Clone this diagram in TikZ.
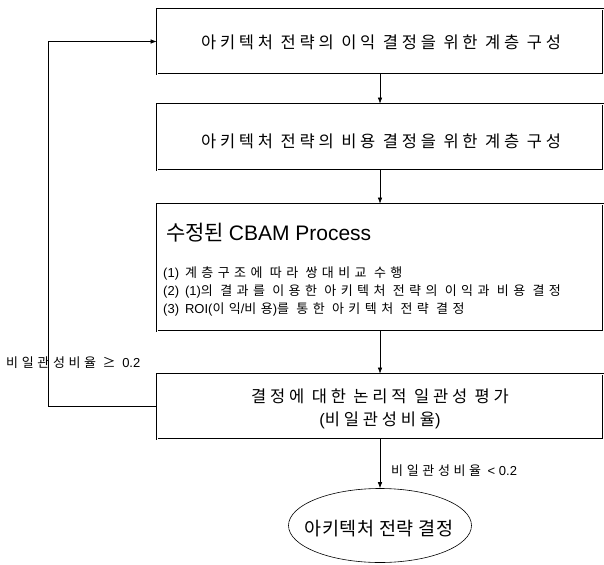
\documentclass[tikz,border=0pt]{standalone}
\usepackage{fontspec}
\setmainfont{Noto Sans CJK KR}
\newfontfamily\krbig[LetterSpace=23]{Noto Sans CJK KR}
\newfontfamily\krsmall[LetterSpace=34]{Noto Sans CJK KR}
\newfontfamily\krlab[LetterSpace=28]{Noto Sans CJK KR}
\newfontfamily\krell[LetterSpace=3]{Noto Sans CJK KR}
\newfontfamily\lat{Liberation Sans}
\newcommand{\la}[1]{{\lat #1}}
\usetikzlibrary{arrows.meta,shapes.geometric}
\begin{document}
\begin{tikzpicture}[x=1pt,y=-1pt,
  box/.style={draw, line width=0.8pt, double, double distance=0.8pt, minimum width=446pt, inner sep=0pt},
  arr/.style={line width=0.6pt, -{Latex[length=6pt,width=4.5pt]}},
  big/.style={font=\krbig\fontsize{16.5}{23}\selectfont, inner sep=0pt},
  small/.style={font=\krsmall\fontsize{13}{18}\selectfont, inner sep=0pt},
  lab/.style={font=\krlab\fontsize{13}{18}\selectfont, inner sep=0pt},
  plain/.style={inner sep=0pt}]
\useasboundingbox (0,0) rectangle (604,564);
\node[box, minimum height=65pt] (b1) at (380,41.5) {};
\node[big] (t1) at (381,42) {아키텍처 전략의 이익 결정을 위한 계층 구성};
\node[box, minimum height=66pt] (b2) at (380,137) {};
\node[big] (t2) at (381,141) {아키텍처 전략의 비용 결정을 위한 계층 구성};
\node[box, minimum height=127pt] (b3) at (380,267.5) {};
\node[plain, anchor=base west, font=\fontsize{21}{23}\selectfont] (t3) at (166,240) {수정된 \la{CBAM Process}};
\node[small, anchor=base west] (l1) at (163,277) {\la{(1)}\hspace{6pt}계층구조에 따라 쌍대비교 수행};
\node[small, anchor=base west] (l2) at (163,295) {\la{(2)}\hspace{6pt}\la{(1)}의 결과를 이용한 아키텍처 전략의 이익과 비용 결정};
\node[small, anchor=base west] (l3) at (163,313) {\la{(3)}\hspace{6pt}\la{ROI(}이익\la{/}비용\la{)}를 통한 아키텍처 전략 결정};
\node[box, minimum height=65pt] (b4) at (380,406.5) {};
\node[big, align=center] (t4) at (380,409) {결정에 대한 논리적 일관성 평가\\\la{(}비일관성비율\la{)}};
\node[ellipse, draw, line width=0.6pt, minimum width=183pt, minimum height=74pt, inner sep=0pt] (el) at (380,525.5) {};
\node[plain, font=\krell\fontsize{18.5}{21}\selectfont] (et) at (379,528.5) {아키텍처 전략 결정};
\node[lab, anchor=west] (g1) at (6,363) {비일관성비율 ≥ \la{0.2}};
\node[lab, anchor=west] (g2) at (391,471) {비일관성비율 \la{< 0.2}};
\coordinate (c1) at (48,406.5);
\coordinate (c2) at (48,41.5);
\draw[arr] (b1.south) -- (b2.north);
\draw[arr] (b2.south) -- (b3.north);
\draw[arr] (b3.south) -- (b4.north);
\draw[arr] (b4.south) -- (el.north);
\draw[arr] (b4.west) -- (c1) -- (c2) -- (b1.west);
\end{tikzpicture}
\end{document}
